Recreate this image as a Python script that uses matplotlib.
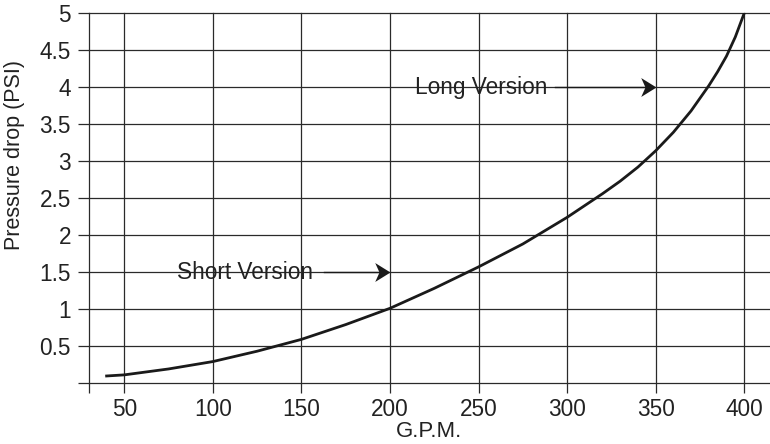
import numpy as np
import matplotlib
matplotlib.use("Agg")
import matplotlib.pyplot as plt
from matplotlib.path import Path

# Curve (G.P.M. vs pressure drop)
gpm = [40, 50, 75, 100, 125, 150, 175, 200, 225, 250, 275, 300,
       310, 320, 330, 340, 350, 360, 370, 380, 385, 390, 395, 400]
psi = [0.095, 0.11, 0.19, 0.29, 0.43, 0.59, 0.79, 1.01, 1.28, 1.57, 1.88, 2.24,
       2.40, 2.56, 2.73, 2.92, 3.14, 3.39, 3.68, 4.02, 4.21, 4.42, 4.68, 5.0]

x_ticks = [30, 50, 100, 150, 200, 250, 300, 350, 400]
x_labels = ['', '50', '100', '150', '200', '250', '300', '350', '400']
y_ticks = [0, 0.5, 1, 1.5, 2, 2.5, 3, 3.5, 4, 4.5, 5]
y_labels = ['', '0.5', '1', '1.5', '2', '2.5', '3', '3.5', '4', '4.5', '5']

# annotations: (text, text x, arrow start x, arrow end x, y)
notes = [("Short Version", 80, 163, 200, 1.5),
         ("Long Version", 214, 293, 350, 4.0)]

plt.rcParams['font.family'] = ['Liberation Sans', 'DejaVu Sans']
ink = '#222222'
fs = 16.3

# stealth style arrow head, tip at (0, 0)
head = Path([(0, 0), (-1, 0.62), (-0.72, 0), (-1, -0.62), (0, 0)],
            [Path.MOVETO, Path.LINETO, Path.LINETO, Path.LINETO, Path.CLOSEPOLY])

fig = plt.figure(figsize=(7.7, 4.44), dpi=100)
ax = fig.add_axes([88.9 / 770, 1 - 383 / 444, 1 - 88.9 / 770, (383 - 13.3) / 444])

ax.plot(gpm, psi, color='#1a1a1a', lw=2.0, zorder=3, solid_joinstyle='round')

ax.set_xlim(30, 30 + (770 - 88.9) / 1.771)
ax.set_ylim(0, 5)
ax.set_xticks(x_ticks)
ax.set_xticklabels(x_labels)
ax.set_yticks(y_ticks)
ax.set_yticklabels(y_labels)

for s in ax.spines.values():
    s.set_visible(False)
ax.grid(True, color='#2a2a2a', lw=0.9)
for gl in ax.get_xgridlines() + ax.get_ygridlines():
    gl.set_clip_on(False)
ax.set_axisbelow(True)

ax.tick_params(axis='x', direction='out', length=7.3, width=0.9, color='#2a2a2a',
               pad=3.5, labelsize=fs, labelcolor=ink)
ax.tick_params(axis='y', direction='out', length=7.9, width=0.9, color='#2a2a2a',
               pad=5, labelsize=fs, labelcolor=ink)

ax.set_xlabel("G.P.M.", fontsize=16, color=ink, labelpad=0)
fig.text(15 / 770, 1 - 155 / 444, "Pressure drop (PSI)", rotation=90,
         ha='center', va='center', fontsize=15.5, color=ink)

for label, tx, ax0, ax1, yy in notes:
    ax.text(tx, yy, label, fontsize=fs, color=ink, ha='left', va='center', zorder=4)
    ax.plot([ax0, ax1 - 3], [yy, yy], color='#1a1a1a', lw=1.0, zorder=4)
    ax.plot([ax1], [yy], marker=head, markersize=22, color='#1a1a1a',
            markeredgewidth=0, zorder=5)

fig.savefig("out.png", dpi=100)
